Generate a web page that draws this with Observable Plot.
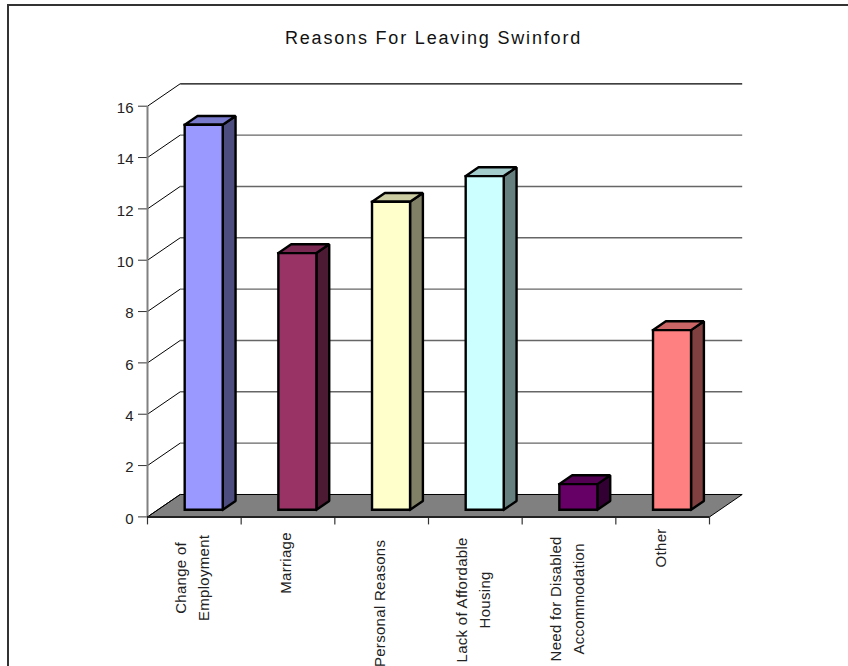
<!DOCTYPE html>
<html>
<head>
<meta charset="utf-8">
<script src="https://cdn.jsdelivr.net/npm/d3@7"></script>
<script src="https://cdn.jsdelivr.net/npm/@observablehq/plot@0.6"></script>
<style>
  html, body { margin: 0; padding: 0; background: #fff; }
  #sheet { position: relative; width: 848px; height: 666px; overflow: hidden; }
  #rim { position: absolute; left: 7px; top: 4px; right: 0; bottom: 0;
         border-left: 2px solid #333; border-top: 2px solid #333; }
  #sheet svg { position: absolute; left: 0; top: 0; overflow: visible; background: none; }
  .chart-title text { letter-spacing: 1.82px; }
  .caption text { letter-spacing: 0.3px; }
</style>
</head>
<body>
<div id="sheet"><div id="rim"></div></div>
<script>
// Survey responses: why people left Swinford
const categories = [
  "Change of\nEmployment",
  "Marriage",
  "Personal Reasons",
  "Lack of Affordable\nHousing",
  "Need for Disabled\nAccommodation",
  "Other"
];
const counts = [15, 10, 12, 13, 1, 7];
const valueTicks = [0, 2, 4, 6, 8, 10, 12, 14, 16];
const title = "Reasons For Leaving Swinford";

// Face colours per bar
const frontColors = ["#9999FF", "#993366", "#FFFFCC", "#CCFFFF", "#660066", "#FF8080"];
const sideColors  = ["#4D4D80", "#4D1A33", "#808066", "#668080", "#330033", "#804040"];
const topColors   = ["#7A7ACC", "#7A2952", "#CCCCA3", "#A3CCCC", "#520052", "#CC6666"];

// Oblique projection: one unit of depth shifts a point along both data axes
const depthX = 0.349;
const depthY = 0.873;
const at = (x, v, d) => ({x: x + d * depthX, y: v + d * depthY});

// Bar footprint within its category slot, and through the depth of the floor
const slotStart = 0.2864;
const slotWidth = 0.406;
const nearDepth = 0.317;
const farDepth = 0.71;

// A closed, filled outline through the given points
const face = (points, fill, strokeWidth = 2.4) =>
  Plot.line([...points, points[0]], {
    x: "x", y: "y", fill, stroke: "#000", strokeWidth,
    strokeLinejoin: "miter", strokeLinecap: "square"
  });

const barMarks = counts.flatMap((v, i) => {
  const x0 = i + slotStart;
  const x1 = x0 + slotWidth;
  return [
    face([at(x1, 0, nearDepth), at(x1, 0, farDepth), at(x1, v, farDepth), at(x1, v, nearDepth)], sideColors[i]),
    face([at(x0, v, nearDepth), at(x1, v, nearDepth), at(x1, v, farDepth), at(x0, v, farDepth)], topColors[i]),
    face([at(x0, 0, nearDepth), at(x1, 0, nearDepth), at(x1, v, nearDepth), at(x0, v, nearDepth)], frontColors[i])
  ];
});

// Rotated category captions, each with its own drop below the axis
const captionDrop = [61, 46, 86.5, 83, 82, 31];
const captionMarks = categories.map((c, i) =>
  Plot.text([c], {
    x: () => i + 0.5, y: () => 0, text: d => d,
    rotate: -90, dx: -4, dy: captionDrop[i], textAnchor: "middle", lineAnchor: "middle",
    lineHeight: 1.53, fontSize: 15, fill: "#222", className: "caption"
  })
);

const chart = Plot.plot({
  width: 848,
  height: 666,
  marginLeft: 147,
  marginRight: 139,
  marginTop: 105.7,
  marginBottom: 149.6,
  style: {fontFamily: "'Liberation Sans', Arial, sans-serif", fontSize: "15px", background: "none", color: "#222"},
  x: {domain: [0, categories.length], label: null},
  y: {domain: [0, 16], label: null},
  marks: [
    // Floor
    face([at(0, 0, 0), at(6, 0, 0), at(6, 0, 1), at(0, 0, 1)], "#808080", 1),
    // Back wall gridlines and their runs along the side wall
    Plot.link(valueTicks.slice(1, -1), {
      x1: () => at(0, 0, 1).x, x2: () => at(6, 0, 1).x,
      y1: v => at(0, v, 1).y, y2: v => at(0, v, 1).y,
      stroke: "#666", strokeWidth: 1.4
    }),
    Plot.link(valueTicks.slice(-1), {
      x1: () => at(0, 0, 1).x, x2: () => at(6, 0, 1).x,
      y1: v => at(0, v, 1).y, y2: v => at(0, v, 1).y,
      stroke: "#000", strokeWidth: 1.2
    }),
    Plot.link(valueTicks, {
      x1: () => 0, x2: () => at(0, 0, 1).x,
      y1: v => v, y2: v => at(0, v, 1).y,
      stroke: "#000", strokeWidth: 1
    }),
    // Axes: tick strokes and their labels, which sit slightly below each tick
    Plot.axisX({ticks: d3.range(7), tickSize: 8, tickFormat: () => "", label: null, stroke: "#333", strokeWidth: 1.2}),
    Plot.axisY({ticks: valueTicks, tickSize: 9, tickFormat: () => "", label: null, stroke: "#333"}),
    Plot.axisY({ticks: valueTicks, tickSize: 0, tickPadding: 14, dy: 2, label: null, fontSize: 15}),
    Plot.ruleX([0], {y1: 0, y2: 16, stroke: "#808080", strokeWidth: 2}),
    Plot.ruleY([0], {x1: 0, x2: 6, stroke: "#222", strokeWidth: 2}),
    // Bars
    ...barMarks,
    ...captionMarks,
    Plot.text([title], {
      frameAnchor: "top", dx: 5, dy: -68, lineAnchor: "middle",
      fontSize: 18, fill: "#111", className: "chart-title"
    })
  ]
});
document.getElementById("sheet").append(chart);
</script>
</body>
</html>
